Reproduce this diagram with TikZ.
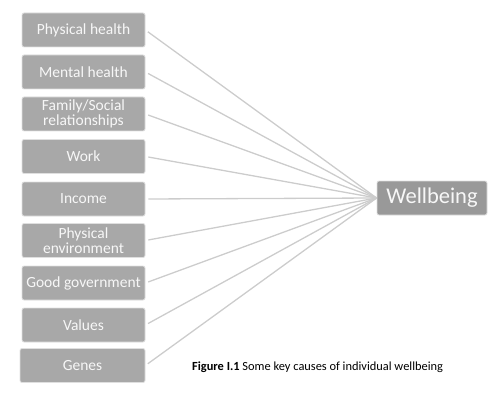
\documentclass[tikz,border=0pt]{standalone}
\usepackage{fontspec}
\setmainfont{Carlito}
\begin{document}
\begin{tikzpicture}[x=1pt,y=-1pt,
  cause/.style={draw=gray!25,line width=0.8pt,fill=gray!68,rounded corners=2pt,
    minimum width=123pt,minimum height=34pt,inner sep=1pt,align=center,
    text=gray!6,font=\fontsize{15.5}{14.5}\selectfont},
  result/.style={draw=gray!25,line width=0.8pt,fill=gray!80,rounded corners=2pt,
    minimum width=110pt,minimum height=34pt,inner sep=1pt,
    text=gray!6,font=\fontsize{22.5}{24}\selectfont},
  link/.style={draw=gray!40,line width=1.3pt,shorten <=3pt}]
\useasboundingbox (0,0) rectangle (498,401);
\node[result] (w) at (432,198) {Wellbeing};
\node[cause] (c1) at (83.5,30) {Physical health};
\node[cause] (c2) at (83.5,72) {Mental health};
\node[cause] (c3) at (83.5,114) {Family/Social\\relationships};
\node[cause] (c4) at (83.5,156.5) {Work};
\node[cause] (c5) at (83.5,199) {Income};
\node[cause] (c6) at (83.5,240.5) {Physical\\environment};
\node[cause] (c7) at (83.5,283) {Good government};
\node[cause] (c8) at (83.5,325) {Values};
\node[cause, minimum width=125pt] (c9) at (82.5,365.5) {Genes};
\foreach \i in {1,...,9} \draw[link] (c\i.east) -- (w.west);
\node[anchor=west,inner sep=0pt,font=\fontsize{12.4}{14}\selectfont] (cap) at (192,367)
  {\textbf{Figure I.1} Some key causes of individual wellbeing};
\end{tikzpicture}
\end{document}
